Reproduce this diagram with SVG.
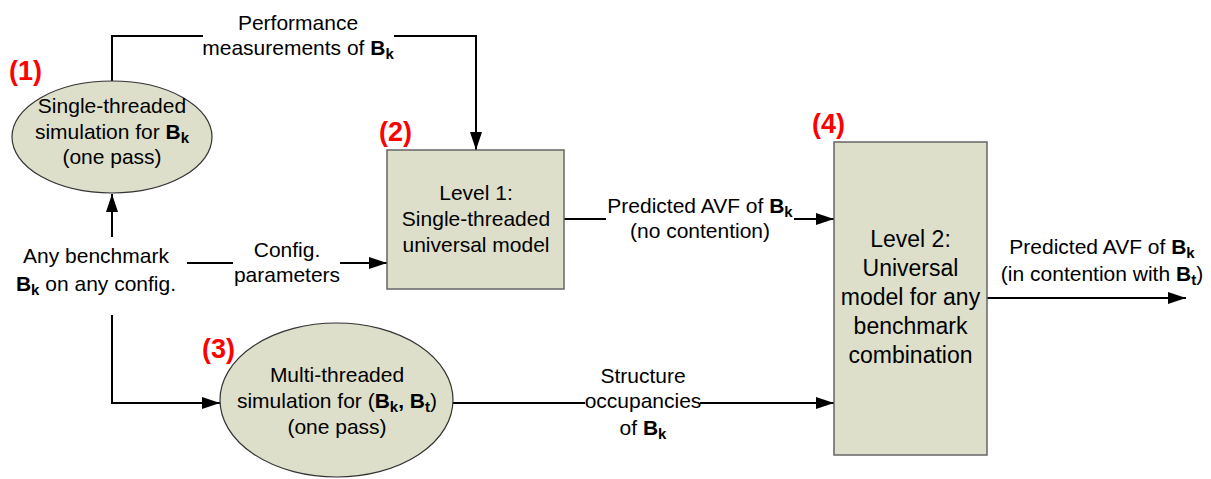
<svg xmlns="http://www.w3.org/2000/svg" width="1211" height="479" viewBox="0 0 1211 479">
<style>
text{font-family:"Liberation Sans",Arial,sans-serif;fill:#000;}
.t{font-size:21px;text-anchor:middle;}
.t4{font-size:23px;text-anchor:middle;}
.num{font-size:27px;font-weight:bold;fill:#ff0000;}
.b{font-weight:bold;}
.s{font-weight:bold;font-size:15px;}
.node{fill:#dddfca;}
.ell{stroke:#333;stroke-width:1.2;}
.box{stroke:#666;stroke-width:1.5;}
.c{fill:none;stroke:#000;stroke-width:2;}
</style>
<defs>
<marker id="arr" viewBox="0 0 18 12" refX="18" refY="6" markerWidth="18" markerHeight="12" markerUnits="userSpaceOnUse" orient="auto">
<path d="M0,0 L18,6 L0,12 z" fill="#000"/>
</marker>
</defs>
<g id="connectors">
<path class="c" d="M112,81 V36 H203"/>
<path class="c" d="M394,36 H476 V150" marker-end="url(#arr)"/>
<path class="c" d="M112,237 V194" marker-end="url(#arr)"/>
<path class="c" d="M187,263 H233"/>
<path class="c" d="M340,263 H387" marker-end="url(#arr)"/>
<path class="c" d="M112,315 V403 H220" marker-end="url(#arr)"/>
<path class="c" d="M564,219 H606"/>
<path class="c" d="M794,219 H834" marker-end="url(#arr)"/>
<path class="c" d="M453,403 H585"/>
<path class="c" d="M700,403 H834" marker-end="url(#arr)"/>
<path class="c" d="M987,298 H1186" marker-end="url(#arr)"/>
<text class="t" x="298" y="30">Performance</text>
<text class="t" x="298" y="55">measurements of <tspan class="b">B</tspan><tspan class="s" dy="4">k</tspan></text>
<text class="t" x="287" y="257">Config.</text>
<text class="t" x="287" y="282">parameters</text>
<text class="t" x="700" y="213">Predicted AVF of <tspan class="b">B</tspan><tspan class="s" dy="4">k</tspan></text>
<text class="t" x="700" y="238">(no contention)</text>
<text class="t" x="643" y="383">Structure</text>
<text class="t" x="643" y="408">occupancies</text>
<text class="t" x="643" y="435">of <tspan class="b">B</tspan><tspan class="s" dy="4">k</tspan></text>
<text class="t" x="1102" y="254">Predicted AVF of <tspan class="b">B</tspan><tspan class="s" dy="4">k</tspan></text>
<text class="t" x="1102" y="281">(in contention with <tspan class="b">B</tspan><tspan class="s" dy="4">t</tspan><tspan dy="-4">)</tspan></text>
</g>
<g id="node-input">
<text class="t" x="96" y="263">Any benchmark</text>
<text class="t" x="96" y="291"><tspan class="b">B</tspan><tspan class="s" dy="4">k</tspan><tspan dy="-4"> on any config.</tspan></text>
</g>
<g id="node-1">
<ellipse class="node ell" cx="112" cy="137" rx="100" ry="56"/>
<text class="num" x="9" y="80">(1)</text>
<text class="t" x="112" y="113">Single-threaded</text>
<text class="t" x="112" y="139">simulation for <tspan class="b">B</tspan><tspan class="s" dy="4">k</tspan></text>
<text class="t" x="112" y="164">(one pass)</text>
</g>
<g id="node-2">
<rect class="node box" x="387" y="150" width="177" height="139"/>
<text class="num" x="379" y="141">(2)</text>
<text class="t" x="476" y="200">Level 1:</text>
<text class="t" x="476" y="226">Single-threaded</text>
<text class="t" x="476" y="252">universal model</text>
</g>
<g id="node-3">
<ellipse class="node ell" cx="336.5" cy="400" rx="116.5" ry="77"/>
<text class="num" x="202" y="358">(3)</text>
<text class="t" x="337" y="382">Multi-threaded</text>
<text class="t" x="337" y="408">simulation for (<tspan class="b">B</tspan><tspan class="s" dy="4">k</tspan><tspan class="b" dy="-4">, B</tspan><tspan class="s" dy="4">t</tspan><tspan dy="-4">)</tspan></text>
<text class="t" x="337" y="434">(one pass)</text>
</g>
<g id="node-4">
<rect class="node box" x="834" y="142" width="153" height="313"/>
<text class="num" x="812" y="133">(4)</text>
<text class="t4" x="910.5" y="247">Level 2:</text>
<text class="t4" x="910.5" y="276">Universal</text>
<text class="t4" x="910.5" y="305">model for any</text>
<text class="t4" x="910.5" y="334">benchmark</text>
<text class="t4" x="910.5" y="363">combination</text>
</g>
</svg>
